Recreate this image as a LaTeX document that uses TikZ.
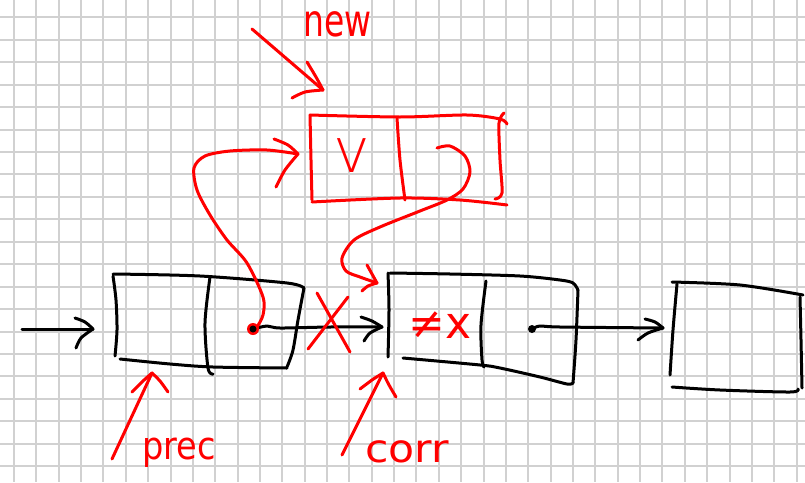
\documentclass[tikz,border=0pt]{standalone}
\usepackage{fontspec}
\newfontfamily\hand{DejaVu Sans}
\newfontfamily\handthin{DejaVuSans-ExtraLight.ttf}
\begin{document}
\begin{tikzpicture}[x=1pt,y=-1pt,
  ink/.style={line width=3pt, line cap=round, line join=round},
  blk/.style={ink, black},
  rd/.style={ink, red},
  gridline/.style={draw=gray!36, line width=2pt},
  lbl/.style={text=red, inner sep=0pt}]
\useasboundingbox (0,0) rectangle (805,482);
\fill[white] (0,0) rectangle (805,482);

% squared paper, lines snapped to whole pixels
\foreach \i in {0,...,35} {
  \pgfmathsetmacro{\gx}{round(14+22.36*\i)}
  \draw[gridline] (\gx,0) -- (\gx,482);
}
\foreach \j in {0,...,20} {
  \pgfmathsetmacro{\gy}{round(17.3+22.45*\j)}
  \draw[gridline] (0,\gy) -- (805,\gy);
}

% named points
\coordinate (d1) at (253,329);
\coordinate (d2) at (532,329);
\coordinate (in) at (22,329);
\coordinate (n1tip) at (93,329);
\coordinate (n2tip) at (382,327);
\coordinate (n3tip) at (663,328);
\coordinate (newtip) at (298,154);
\coordinate (loopstart) at (437,148);
\coordinate (loopend) at (377,283);

% ---- list cell "prec"
\draw[blk] plot[smooth] coordinates {(113,276) (116,300) (117,330) (115,356)};
\draw[blk] plot[smooth] coordinates {(113,274) (200,276) (287,283) (304,288)};
\draw[blk] plot[smooth] coordinates {(304,288) (298,320) (293,350) (287,367)};
\draw[blk] plot[smooth] coordinates {(120,359) (170,364) (213,367) (287,368)};
\draw[blk] plot[smooth] coordinates {(210,277) (205,323) (208,368) (213,374)};

% ---- list cell "corr"
\draw[blk] plot[smooth] coordinates {(388,273) (389,310) (388,357)};
\draw[blk] plot[smooth] coordinates {(390,273) (450,274) (520,276) (560,280) (573,283) (578,290)};
\draw[blk] plot[smooth] coordinates {(578,290) (576,340) (573,383)};
\draw[blk] plot[smooth] coordinates {(403,358) (480,365) (500,368) (540,377) (567,384) (573,383)};
\draw[blk] plot[smooth] coordinates {(486,281) (481,325) (482,360) (484,367)};
\node[lbl, anchor=base, font=\hand\fontsize{44}{44}\selectfont] (neq) at (440,338) {≠x};

% ---- last list cell
\draw[blk] plot[smooth] coordinates {(677,284) (673,330) (670,375)};
\draw[blk] plot[smooth] coordinates {(672,282) (740,285) (803,295)};
\draw[blk] plot[smooth] coordinates {(800,297) (801,340) (802,388)};
\draw[blk] plot[smooth] coordinates {(672,387) (720,390) (790,392) (798,389)};

% ---- black pointers
\draw[blk] (in) -- (n1tip);
\draw[blk] plot[smooth] coordinates {(75,318) (85,322) (n1tip)};
\draw[blk] plot[smooth] coordinates {(n1tip) (81,338) (76,348)};

\draw[blk] plot[smooth] coordinates {(d1) (267,326) (280,328) (330,327) (n2tip)};
\draw[blk] plot[smooth] coordinates {(361,317) (372,321) (n2tip)};
\draw[blk] plot[smooth] coordinates {(n2tip) (370,333) (364,341)};

\draw[blk] plot[smooth] coordinates {(d2) (540,326) (560,327) (n3tip)};
\draw[blk] plot[smooth] coordinates {(645,319) (655,322) (n3tip)};
\draw[blk] plot[smooth] coordinates {(n3tip) (648,333) (638,340)};
\fill[black] (d2) circle (4);

% ---- new cell (red)
\draw[rd] plot[smooth] coordinates {(310,115) (311,160) (312,200)};
\draw[rd] plot[smooth] coordinates {(310,115) (400,117) (467,115) (500,119) (507,124)};
\draw[rd] plot[smooth] coordinates {(504,113) (499,123) (500,160) (502,193) (495,199)};
\draw[rd] plot[smooth] coordinates {(312,202) (400,198) (460,200) (507,205)};
\draw[rd] plot[smooth] coordinates {(397,118) (400,160) (405,200)};
\node[lbl, font=\handthin\fontsize{62}{62}\selectfont] (v) at (352,155.5) {v};

% new.next -> corr
\draw[rd] plot[smooth] coordinates {(loopstart) (450,146) (465,156) (470,172) (463,189) (447,200) (420,211) (380,227) (354,240) (342,258) (346,271) (360,277) (loopend)};
\draw[rd] plot[smooth] coordinates {(367,265) (372,274) (loopend)};
\draw[rd] plot[smooth] coordinates {(loopend) (368,286) (362,291)};

% prec.next -> new
\draw[rd] plot[smooth] coordinates {(257,327) (263,315) (263,297) (247,263) (227,240) (210,215) (197,190) (194,168) (205,156) (230,151) (267,150) (newtip)};
\draw[rd] plot[smooth] coordinates {(274,139) (288,145) (newtip)};
\draw[rd] plot[smooth] coordinates {(newtip) (285,170) (276,187)};
\fill[red] (d1) circle (6);
\fill[black] (d1) circle (3.5);

% old link crossed out
\draw[rd] (317,293) -- (350,352);
\draw[rd] (348,297) -- (308,349);

% label "new"
\node[lbl, font=\hand\fontsize{33}{33}\selectfont] (newlbl) at (337.5,24.5) {\scalebox{1}[1.35]{new}};
\coordinate (newtail) at (252,29);
\coordinate (newhead) at (323,90);
\draw[rd] (newtail) -- (newhead);
\draw[rd] plot[smooth] coordinates {(307,62) (316,77) (newhead)};
\draw[rd] plot[smooth] coordinates {(292,98) (305,92) (newhead)};

% label "prec"
\node[lbl, anchor=base west, font=\hand\fontsize{32}{32}\selectfont] (preclbl) at (142,459) {\scalebox{1.05}[1.2]{prec}};
\coordinate (prectail) at (112,459);
\coordinate (prechead) at (152,373);
\draw[rd] (prectail) -- (prechead);
\draw[rd] plot[smooth] coordinates {(132,392) (143,381) (prechead)};
\draw[rd] plot[smooth] coordinates {(prechead) (160,381) (168,392)};

% label "corr"
\node[lbl, anchor=base west, font=\hand\fontsize{30}{30}\selectfont] (corrlbl) at (365,462) {\scalebox{1.42}[1.3]{corr}};
\coordinate (corrtail) at (342,455);
\coordinate (corrhead) at (383,373);
\draw[rd] (corrtail) -- (corrhead);
\draw[rd] plot[smooth] coordinates {(360,389) (372,380) (corrhead)};
\draw[rd] plot[smooth] coordinates {(corrhead) (389,385) (396,397)};
\end{tikzpicture}
\end{document}
